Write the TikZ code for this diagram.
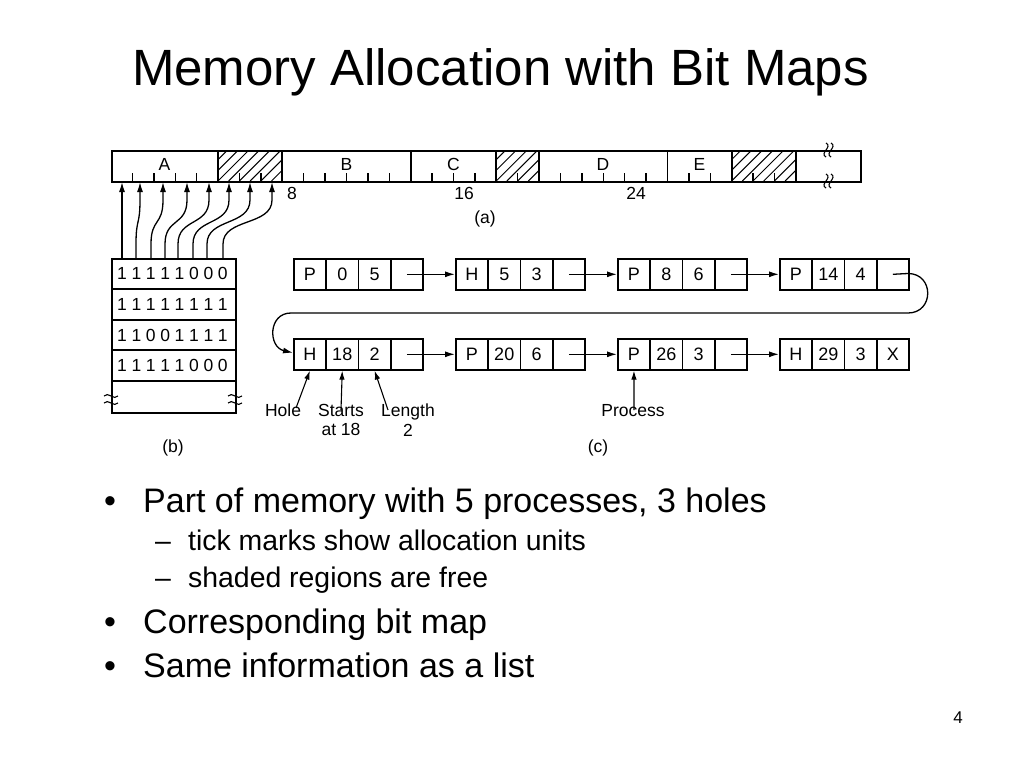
\documentclass[tikz,border=0pt]{standalone}
\usepackage{fontspec}
\setmainfont{Liberation Sans}
\usetikzlibrary{arrows.meta}
\begin{document}
\begin{tikzpicture}[x=1pt,y=-1pt,
  frame/.style={line width=1.8pt},
  cell/.style={draw, line width=1.6pt, minimum width=32.3pt, minimum height=31pt, inner sep=0pt, font=\fontsize{18}{18}\selectfont, anchor=north west},
  lbl/.style={font=\fontsize{17.5}{19.5}\selectfont, inner sep=0pt, align=center},
  small/.style={font=\fontsize{17.5}{17.5}\selectfont, inner sep=0pt},
  arr/.style={line width=1.3pt, -{Latex[length=10pt,width=6pt]}},
  tick/.style={line width=1.4pt},
  hatch/.style={line width=1pt},
  bul/.style={font=\fontsize{34}{40}\selectfont, inner sep=0pt, anchor=base west},
  sub/.style={font=\fontsize{28.4}{34}\selectfont, inner sep=0pt, anchor=base west},
]
\useasboundingbox (0,0) rectangle (1024,768);

% title
\node[font=\fontsize{51}{60}\selectfont, inner sep=0pt, anchor=base] (title) at (500.5,85) {Memory Allocation with Bit Maps};

% ---------------- memory bar (a)
\foreach \a/\b in {5/8,18/20,29/32} {
  \begin{scope}
    \clip ({111+21.4*\a},150) rectangle ({111+21.4*\b},181);
    \foreach \i in {-3,...,10} \draw[hatch] ({111+21.4*\a+10.7*\i},181) -- ++(31,-31);
  \end{scope}
}
\node[draw, frame, minimum width=749pt, minimum height=31pt, inner sep=0pt, anchor=north west] (bar) at (111,150) {};
\foreach \k in {5,8,14,18,20,26,29,32} \draw[frame] ({111+21.4*\k},150) -- ++(0,31);
\foreach \k in {1,2,3,4,6,7,9,10,11,12,13,15,16,17,19,21,22,23,24,25,27,28,30,31}
  \draw[tick] ({111+21.4*\k},181) -- ++(0,-8);
\foreach \y in {150,181} \foreach \dx in {0,5}
  \draw[line width=1.1pt] ({826+\dx},{\y-7}) .. controls ({833+\dx},{\y-3}) and ({819+\dx},{\y+3}) .. ({826+\dx},{\y+7});

\node[small] (lA) at (164.5,164) {A};
\node[small] (lB) at (346.4,164) {B};
\node[small] (lC) at (453.4,164) {C};
\node[small] (lD) at (603,164) {D};
\node[small] (lE) at (699.5,164) {E};
\node[small] (n8) at (292,193) {8};
\node[small] (n16) at (464,193) {16};
\node[small] (n24) at (636,193) {24};
\node[small] (capa) at (485,219) {(a)};

% ---------------- bitmap (b)
\node[draw, frame, minimum width=124pt, minimum height=154pt, inner sep=0pt, anchor=north west] (bmap) at (111,258) {};
\foreach \y in {289,320,350,381} \draw[frame] (111,\y) -- (235,\y);
\foreach \x in {111,235} \foreach \y in {396,403}
  \draw[line width=1.1pt] ({\x-7},\y) .. controls ({\x-3},{\y-5}) and ({\x+3},{\y+5}) .. ({\x+7},\y);
\foreach \row/\yy in {{1,1,1,1,1,0,0,0}/273.5,{1,1,1,1,1,1,1,1}/304.5,{1,1,0,0,1,1,1,1}/335,{1,1,1,1,1,0,0,0}/365.5}
  \foreach \d [count=\i from 0] in \row
    \node[small] (bit-\yy-\i) at ({122+14.4*\i},\yy) {\d};

\foreach \i/\s/\t in {1/122/122,2/136/140,3/151/163,4/165/187,5/178/209,6/193/229,7/207/250,8/223/272} {
  \coordinate (bs\i) at (\s,258);
  \coordinate (bt\i) at (\t,182);
  \draw[arr] (bs\i) -- (\s,244) .. controls (\s,218) and (\t,226) .. (\t,200) -- (bt\i);
}
\node[small] (capb) at (173,448) {(b)};

% ---------------- list (c)
\foreach \n/\x/\y/\a/\b/\c/\d in {
  r1b1/293/258/P/0/5/{},
  r1b2/455/258/H/5/3/{},
  r1b3/617/258/P/8/6/{},
  r1b4/779/258/P/14/4/{},
  r2b1/293/338/H/18/2/{},
  r2b2/455/338/P/20/6/{},
  r2b3/617/338/P/26/3/{},
  r2b4/779/338/H/29/3/X} {
  \node[cell] (\n c1) at (\x,\y) {\a};
  \node[cell] (\n c2) at ({\x+32.3},\y) {\b};
  \node[cell] (\n c3) at ({\x+64.6},\y) {\c};
  \node[cell] (\n c4) at ({\x+96.9},\y) {\d};
}
\draw[arr] (r1b1c4.center) -- (r1b2c1.west);
\draw[arr] (r1b2c4.center) -- (r1b3c1.west);
\draw[arr] (r1b3c4.center) -- (r1b4c1.west);
\draw[arr] (r2b1c4.center) -- (r2b2c1.west);
\draw[arr] (r2b2c4.center) -- (r2b3c1.west);
\draw[arr] (r2b3c4.center) -- (r2b4c1.west);
\draw[arr] (r1b4c4.center) -- (908,273.5) .. controls (934.3,273.5) and (934.3,313) .. (908,313)
  -- (291,313) .. controls (268,313) and (268,347) .. ([yshift=1.5pt]r2b1c1.west);

\node[lbl, anchor=north] (hole) at (283,404) {Hole};
\node[lbl, anchor=north] (starts) at (341,404) {Starts\\at 18};
\node[lbl, anchor=north] (length) at (408,404) {Length\\2};
\node[lbl, anchor=north] (proc) at (633,404) {Process};
\draw[arr, line width=1.1pt, -{Latex[length=9pt,width=5.5pt]}] ([xshift=13pt,yshift=-4pt]hole.north) -- (r2b1c1.south);
\draw[arr, line width=1.1pt, -{Latex[length=9pt,width=5.5pt]}] ([yshift=-6pt]starts.north) -- (r2b1c2.south);
\draw[arr, line width=1.1pt, -{Latex[length=9pt,width=5.5pt]}] ([xshift=-20pt,yshift=-6pt]length.north) -- (r2b1c3.south);
\draw[arr, line width=1.1pt, -{Latex[length=9pt,width=5.5pt]}] ([xshift=1pt,yshift=-6pt]proc.north) -- (r2b3c1.south);
\node[small] (capc) at (598,448) {(c)};

% ---------------- bullets
\node[bul] (d1) at (104,512) {\textbullet};
\node[bul] (t1) at (143,512) {Part of memory with 5 processes, 3 holes};
\node[sub] (s1) at (155,550) {\textendash};
\node[sub] (u1) at (188,550) {tick marks show allocation units};
\node[sub] (s2) at (155,587) {\textendash};
\node[sub] (u2) at (188,587) {shaded regions are free};
\node[bul] (d2) at (104,633) {\textbullet};
\node[bul] (t2) at (143,633) {Corresponding bit map};
\node[bul] (d3) at (104,677) {\textbullet};
\node[bul] (t3) at (143,677) {Same information as a list};

\node[font=\fontsize{17}{17}\selectfont, inner sep=0pt] (pg) at (958,718) {4};
\end{tikzpicture}
\end{document}
